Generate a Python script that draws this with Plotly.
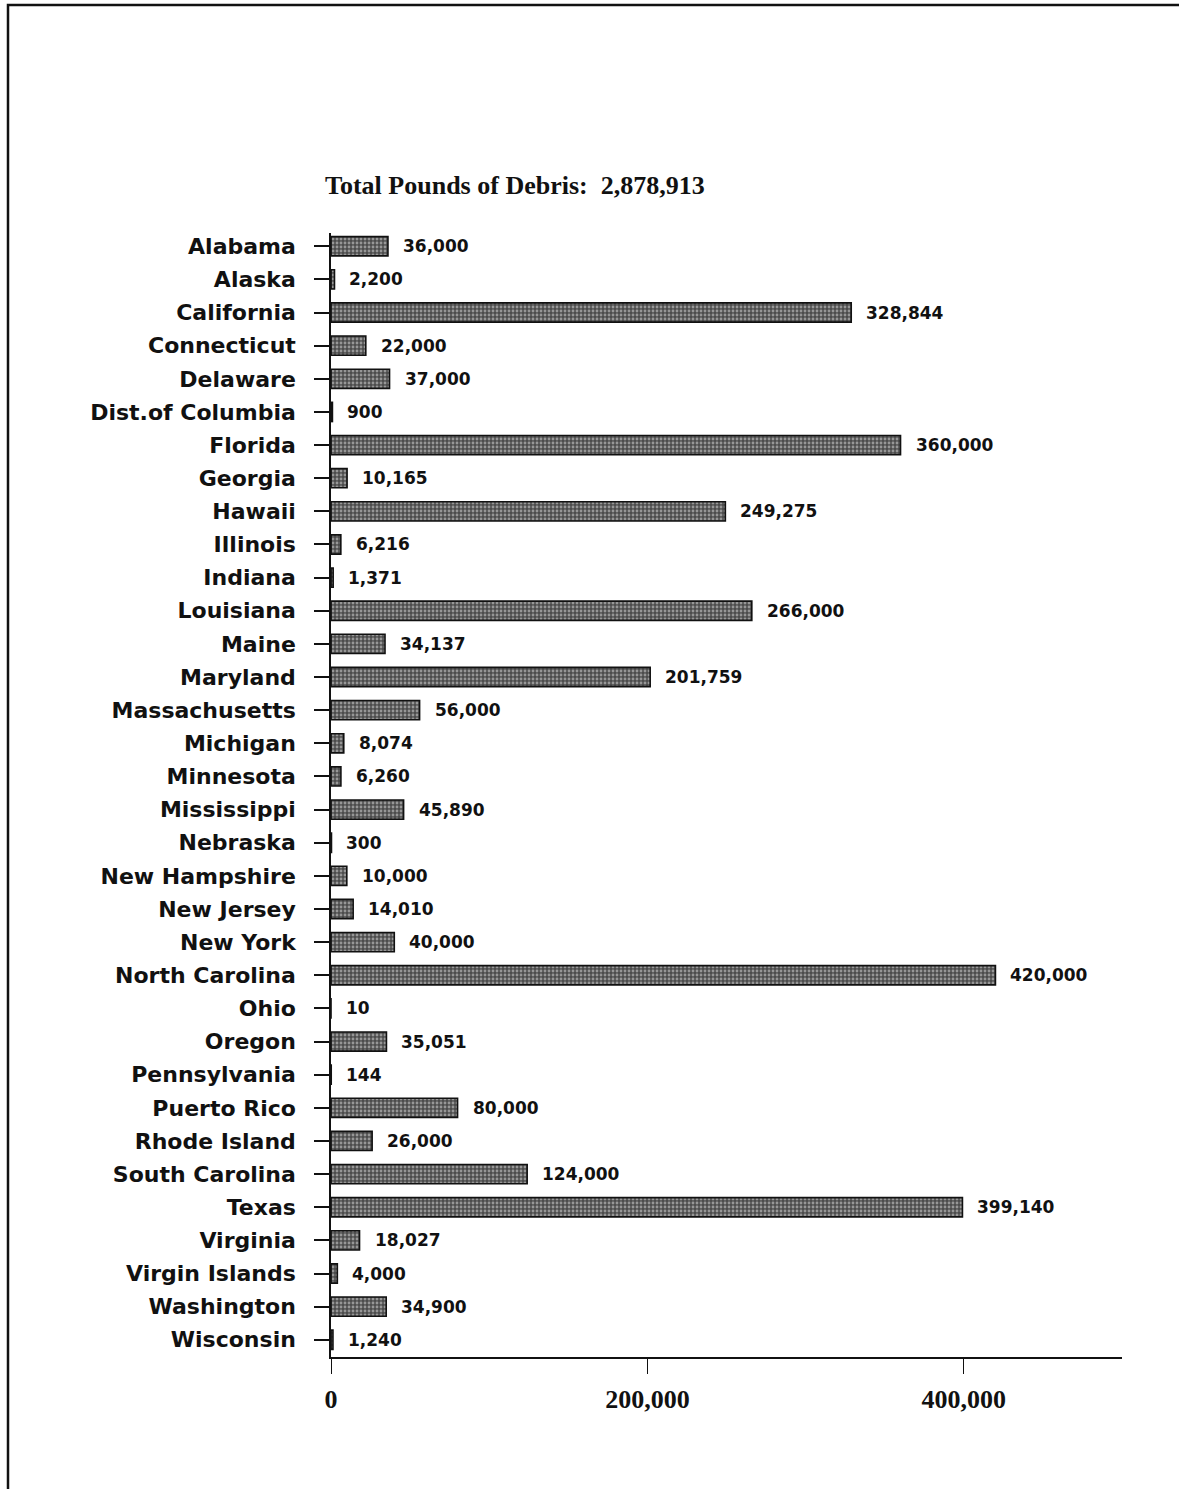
import plotly.graph_objects as go

states = ["Alabama", "Alaska", "California", "Connecticut", "Delaware", "Dist.of Columbia",
          "Florida", "Georgia", "Hawaii", "Illinois", "Indiana", "Louisiana", "Maine",
          "Maryland", "Massachusetts", "Michigan", "Minnesota", "Mississippi", "Nebraska",
          "New Hampshire", "New Jersey", "New York", "North Carolina", "Ohio", "Oregon",
          "Pennsylvania", "Puerto Rico", "Rhode Island", "South Carolina", "Texas",
          "Virginia", "Virgin Islands", "Washington", "Wisconsin"]
pounds = [36000, 2200, 328844, 22000, 37000, 900, 360000, 10165, 249275, 6216, 1371,
          266000, 34137, 201759, 56000, 8074, 6260, 45890, 300, 10000, 14010, 40000,
          420000, 10, 35051, 144, 80000, 26000, 124000, 399140, 18027, 4000, 34900, 1240]
x_ticks = [0, 200000, 400000]
x_tick_labels = ["0", "200,000", "400,000"]
title_text = "Total Pounds of Debris:  2,878,913"

W, H = 1179, 1489
L, R, T, B = 331, 57, 233, 132

fig = go.Figure()
fig.add_trace(go.Bar(
    y=states, x=pounds, orientation="h", width=0.58,
    marker=dict(color="#4c4c4c", line=dict(color="#111111", width=1.6),
                pattern=dict(shape=".", fgcolor="#e2e2e2", size=4, solidity=0.4)),
    hoverinfo="x+y",
))

annotations = []
for s, v in zip(states, pounds):
    annotations.append(dict(x=v, y=s, xref="x", yref="y", text=f"{v:,}",
                            showarrow=False, xanchor="left", yanchor="middle",
                            xshift=13, font=dict(family="DejaVu Sans", size=17,
                                                 color="#111111", weight="bold")))

pw = W - L - R
ph = H - T - B
def px_to_paper_x(px):
    return (px - L) / pw
def px_to_paper_y(py):
    return (H - B - py) / ph

fig.update_layout(
    width=W, height=H,
    margin=dict(l=L, r=R, t=T, b=B),
    paper_bgcolor="white", plot_bgcolor="white",
    showlegend=False,
    title=dict(text=title_text, x=325 / W, xanchor="left", y=1 - 185 / H, yanchor="middle",
               xref="container", yref="container",
               font=dict(family="Liberation Serif", size=26, color="#111111", weight="bold")),
    annotations=annotations,
    shapes=[dict(type="rect", xref="paper", yref="paper",
                 x0=px_to_paper_x(8), x1=px_to_paper_x(1190),
                 y0=px_to_paper_y(1500), y1=px_to_paper_y(5),
                 line=dict(color="#111111", width=2.5), fillcolor="rgba(0,0,0,0)",
                 layer="below")],
    xaxis=dict(range=[0, 500000], tickvals=x_ticks, ticktext=x_tick_labels,
               showgrid=False, zeroline=False, showline=True, linecolor="#111111",
               linewidth=1.5, ticks="outside", ticklen=15, tickwidth=1.2,
               tickcolor="#111111", ticklabelstandoff=3,
               tickfont=dict(family="Liberation Serif", size=26, color="#111111",
                             weight="bold")),
    yaxis=dict(categoryorder="array", categoryarray=states, range=[33.52, -0.4],
               showgrid=False, zeroline=False, showline=True, linecolor="#111111",
               linewidth=1.5, ticks="outside", ticklen=15, tickwidth=1.5,
               tickcolor="#111111", ticklabelstandoff=14,
               tickfont=dict(family="DejaVu Sans", size=22, color="#111111",
                             weight="bold")),
)

fig.write_html("out.html", config={"displayModeBar": False},
               post_script="document.body.style.margin='0';")
